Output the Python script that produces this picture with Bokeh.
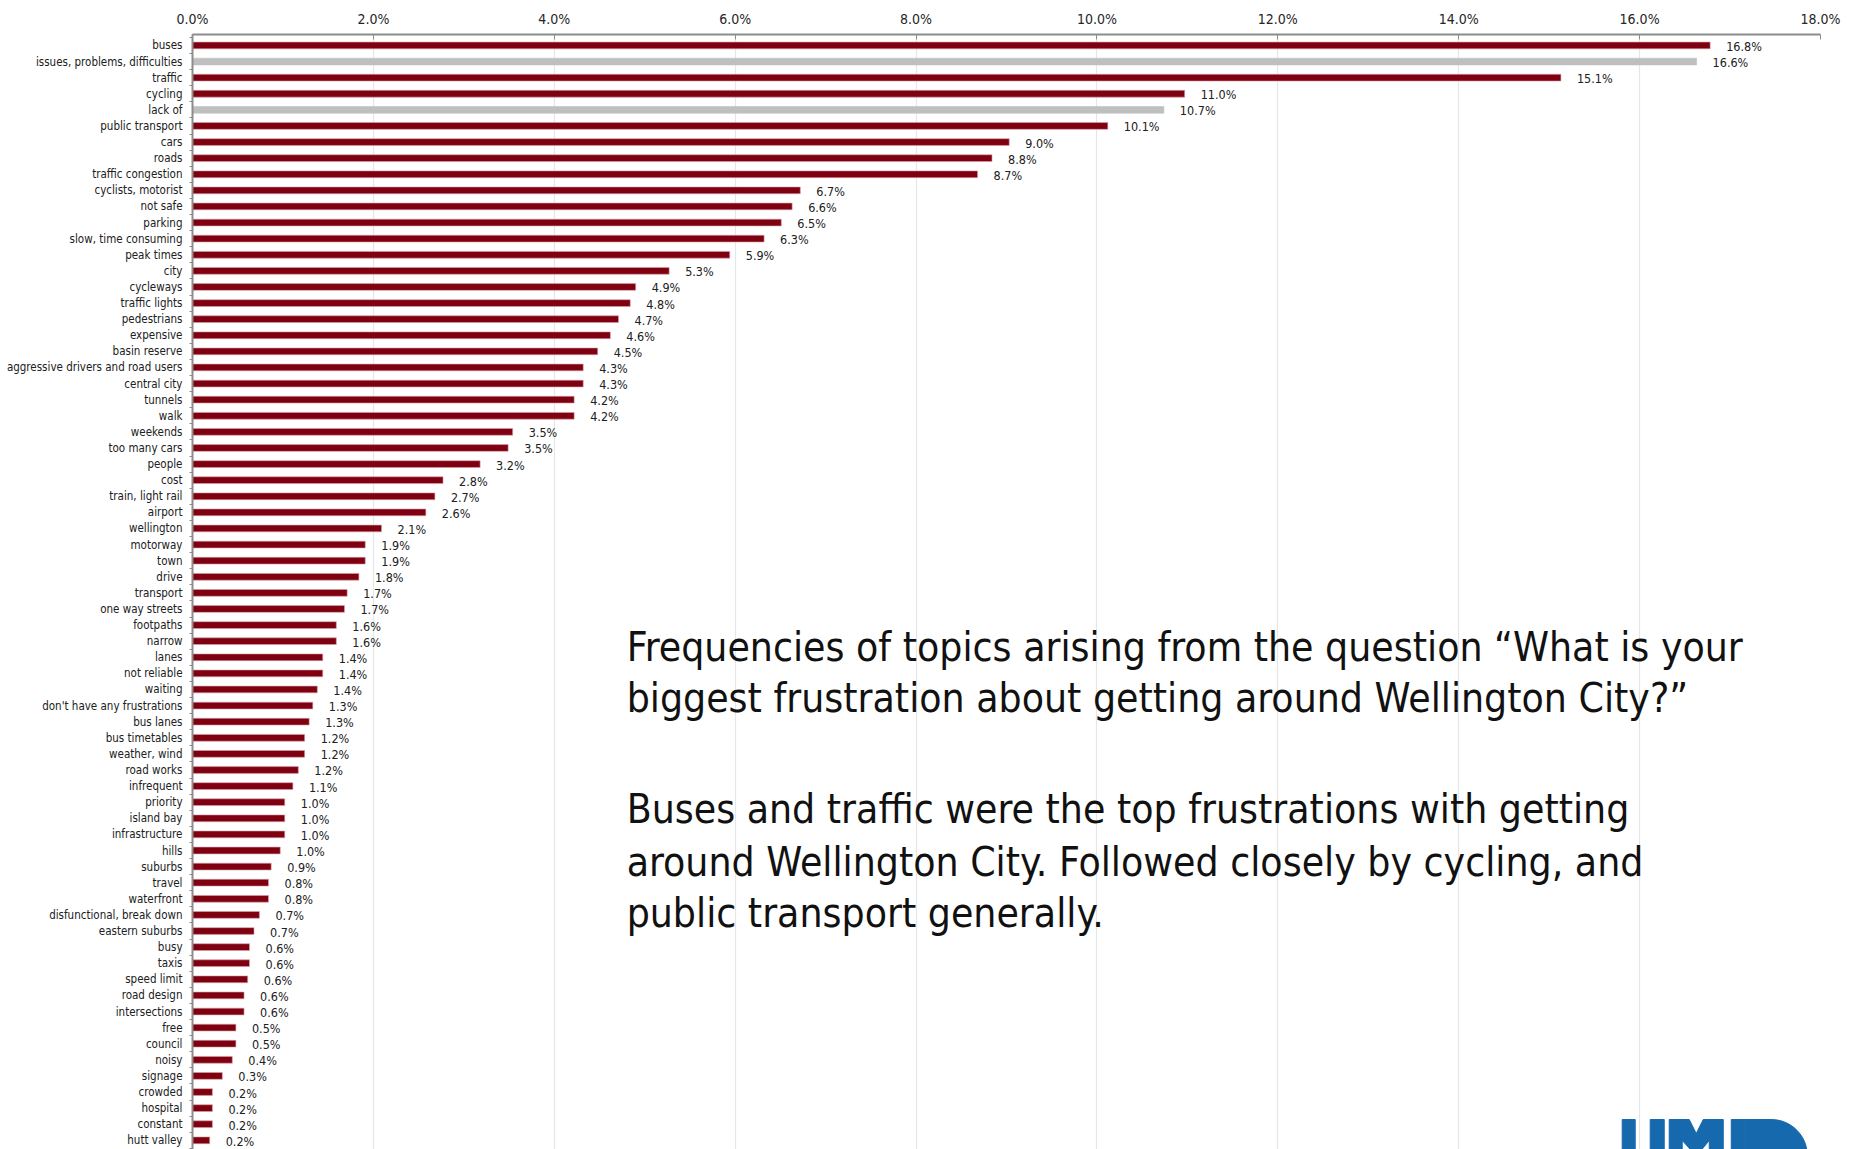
import numpy as np
from bokeh.plotting import figure
from bokeh.models import (ColumnDataSource, Range1d, FixedTicker, PrintfTickFormatter, Label)
from bokeh.embed import file_html
from bokeh.resources import INLINE
from bokeh.core.properties import value

categories = [
    "buses", "issues, problems, difficulties", "traffic", "cycling", "lack of",
    "public transport", "cars", "roads", "traffic congestion", "cyclists, motorist",
    "not safe", "parking", "slow, time consuming", "peak times", "city",
    "cycleways", "traffic lights", "pedestrians", "expensive", "basin reserve",
    "aggressive drivers and road users", "central city", "tunnels", "walk", "weekends",
    "too many cars", "people", "cost", "train, light rail", "airport",
    "wellington", "motorway", "town", "drive", "transport",
    "one way streets", "footpaths", "narrow", "lanes", "not reliable",
    "waiting", "don't have any frustrations", "bus lanes", "bus timetables", "weather, wind",
    "road works", "infrequent", "priority", "island bay", "infrastructure",
    "hills", "suburbs", "travel", "waterfront", "disfunctional, break down",
    "eastern suburbs", "busy", "taxis", "speed limit", "road design",
    "intersections", "free", "council", "noisy", "signage",
    "crowded", "hospital", "constant", "hutt valley",
]
percent = [
    16.78, 16.63, 15.13, 10.97, 10.74,
    10.12, 9.03, 8.84, 8.68, 6.72,
    6.63, 6.51, 6.32, 5.94, 5.27,
    4.90, 4.84, 4.71, 4.62, 4.48,
    4.32, 4.32, 4.22, 4.22, 3.54,
    3.49, 3.18, 2.77, 2.68, 2.58,
    2.09, 1.91, 1.91, 1.84, 1.71,
    1.68, 1.59, 1.59, 1.44, 1.44,
    1.38, 1.33, 1.29, 1.24, 1.24,
    1.17, 1.11, 1.02, 1.02, 1.02,
    0.97, 0.87, 0.84, 0.84, 0.74,
    0.68, 0.63, 0.63, 0.61, 0.57,
    0.57, 0.48, 0.48, 0.44, 0.33,
    0.22, 0.22, 0.22, 0.19,
]
grey_topics = ["issues, problems, difficulties", "lack of"]
x_ticks = [0, 2, 4, 6, 8, 10, 12, 14, 16, 18]

RED = "#7f0010"
GREY = "#bfbfbf"
FONT = "Liberation Sans Narrow, DejaVu Sans Condensed, sans-serif"

pos = list(range(len(categories)))
colors = [GREY if c in grey_topics else RED for c in categories]
edges = [GREY if c in grey_topics else "#d9a0a8" for c in categories]
labels = [f"{v:.1f}%" for v in percent]

src = ColumnDataSource(dict(cat=categories, y=pos, v=percent, color=colors,
                            edge=edges, lab=labels))

Y0, Y1 = 68.57, -0.68
p = figure(width=1851, height=1149, output_backend="svg", toolbar_location=None,
           x_range=Range1d(0, 18), y_range=Range1d(Y0, Y1),
           x_axis_location="above", min_border_left=192, min_border_right=31,
           min_border_top=34, min_border_bottom=0)
p.outline_line_color = None
p.background_fill_color = "white"
p.border_fill_color = "white"

p.hbar(y="y", right="v", left=0, height=0.42, fill_color="color", line_color="edge",
       line_width=0.6, source=src)
p.text(x="v", y="y", text="lab", source=src, x_offset=16, y_offset=1,
       text_baseline="middle", text_align="left", text_font=value(FONT),
       text_font_size="12.5px", text_color="#202020")

# x axis (top)
xa = p.xaxis[0]
xa.ticker = FixedTicker(ticks=x_ticks)
xa.formatter = PrintfTickFormatter(format="%.1f%%")
xa.axis_line_color = "#8c8c8c"
xa.axis_line_width = 2
xa.major_tick_line_color = "#8c8c8c"
xa.major_tick_in = 5
xa.major_tick_out = 0
xa.minor_tick_line_color = None
xa.major_label_text_font = FONT
xa.major_label_text_font_size = "14px"
xa.major_label_text_color = "#262626"
xa.major_label_standoff = 8

p.xgrid.ticker = FixedTicker(ticks=x_ticks)
p.xgrid.grid_line_color = "#e6e6e6"
p.xgrid.grid_line_width = 1.2
p.ygrid.grid_line_color = None

# y axis (left)
ya = p.yaxis[0]
ya.ticker = FixedTicker(ticks=pos, minor_ticks=[i + 0.5 for i in range(-1, len(categories))])
ya.major_label_overrides = {i: c for i, c in enumerate(categories)}
ya.axis_line_color = "#8c8c8c"
ya.axis_line_width = 2
ya.major_tick_line_color = None
ya.minor_tick_line_color = "#8c8c8c"
ya.minor_tick_out = 3
ya.minor_tick_in = 0
ya.major_label_text_font = FONT
ya.major_label_text_font_size = "11.5px"
ya.major_label_text_color = "#202020"
ya.major_label_standoff = 4

# annotation text
lines = [
    ("Frequencies of topics arising from the question \u201cWhat is your", 37.33),
    ("biggest frustration about getting around Wellington City?\u201d", 40.55),
    ("Buses and traffic were the top frustrations with getting", 47.45),
    ("around Wellington City. Followed closely by cycling, and", 50.74),
    ("public transport generally.", 53.9),
]
for txt, yy in lines:
    p.add_layout(Label(x=4.80, y=yy, text=txt, text_font=FONT, text_font_size="40.5px",
                       text_baseline="middle", text_color="#111111"))

# logo fragment (decorative shapes, bottom right)
def px2x(px):
    return (px - 192.0) / 90.4

def py2y(py):
    return (py - 45.0) / 16.1

top, bot = 1119, 1152
logo_xs, logo_ys = [], []
for a, b in [(1621, 1634), (1649, 1663), (1668, 1681), (1708, 1722), (1730, 1743)]:
    logo_xs.append([px2x(a), px2x(b), px2x(b), px2x(a)])
    logo_ys.append([py2y(top), py2y(top), py2y(bot), py2y(bot)])
# M diagonals
logo_xs.append([px2x(1681), px2x(1688), px2x(1695), px2x(1702), px2x(1708), px2x(1708),
                px2x(1698), px2x(1692), px2x(1681)])
logo_ys.append([py2y(top), py2y(top), py2y(1133), py2y(top), py2y(top), py2y(1140),
                py2y(bot), py2y(bot), py2y(1140)])
# R bowl
ang = np.linspace(np.pi / 2, 0, 20)
cx, cy, r = 1770, 1155, 36
bx = [1743] + list(cx + r * np.cos(ang)) + [cx + r, 1743]
by = [top] + list(cy - r * np.sin(ang)) + [bot, bot]
logo_xs.append([px2x(v) for v in bx])
logo_ys.append([py2y(v) for v in by])
p.patches(logo_xs, logo_ys, fill_color="#1769ae", line_color="#1769ae")

open("out.html", "w").write(file_html(p, INLINE))
